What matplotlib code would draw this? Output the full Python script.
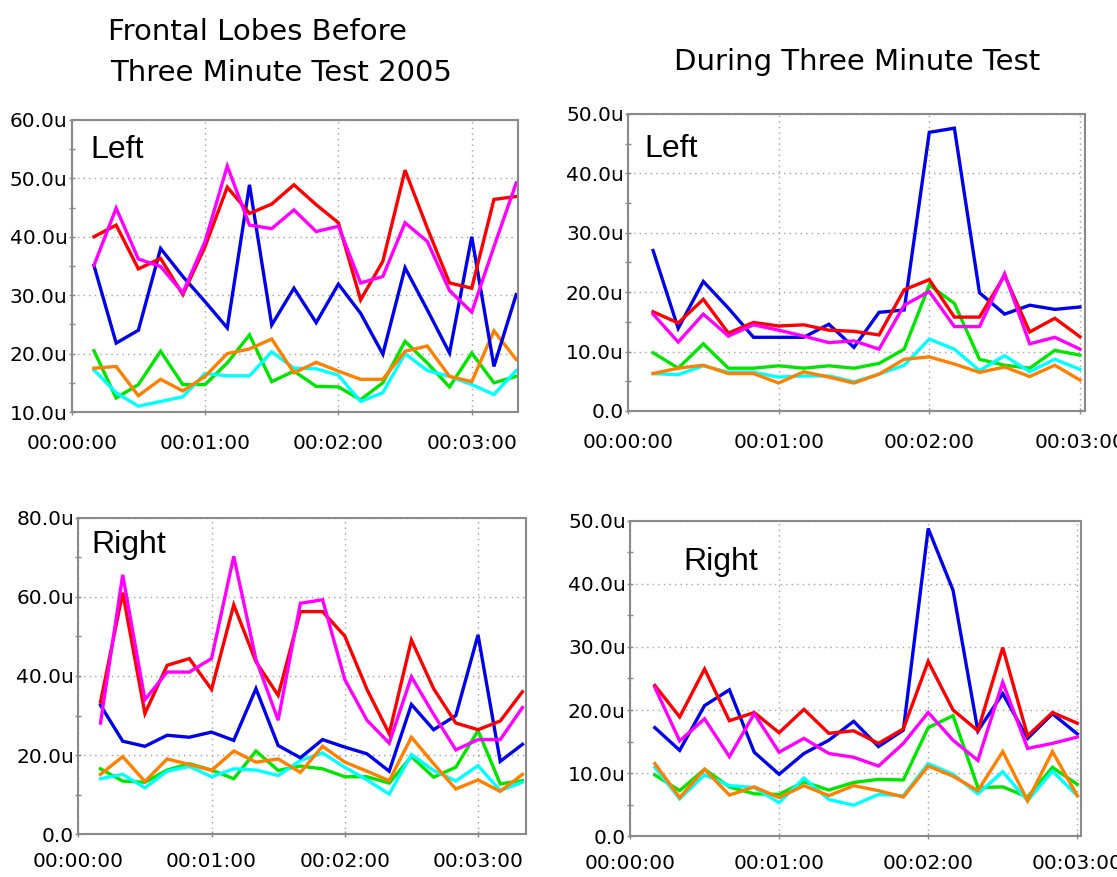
import matplotlib
matplotlib.use("Agg")
import matplotlib.pyplot as plt
from matplotlib.ticker import FuncFormatter, MultipleLocator

# sample times (seconds)
t_before = [10, 20, 30, 40, 50, 60, 70, 80, 90, 100,
            110, 120, 130, 140, 150, 160, 170, 180, 190, 200]
t_during = [10, 20, 30, 40, 50, 60, 70, 80, 90,
            100, 110, 120, 130, 140, 150, 160, 170, 180]

# before test, left
bl_blue = [35.1, 21.8, 24.0, 38.0, 33.2, 28.9, 24.4, 48.9, 24.9, 31.2,
           25.3, 31.9, 26.9, 19.9, 34.7, 27.5, 20.1, 40.0, 17.8, 30.1]
bl_red = [40.0, 42.0, 34.5, 36.3, 30.1, 38.3, 48.5, 44.0, 45.6, 48.9,
          45.5, 42.4, 29.2, 35.8, 51.4, 41.5, 32.1, 31.2, 46.4, 46.9]
bl_magenta = [35.1, 44.9, 36.2, 34.9, 30.4, 39.2, 52.1, 42.0, 41.4, 44.6,
              40.9, 41.8, 32.1, 33.2, 42.4, 39.2, 30.8, 27.1, 38.3, 49.2]
bl_green = [20.5, 12.4, 14.7, 20.4, 14.7, 14.7, 18.4, 23.2, 15.2, 17.0,
            14.4, 14.3, 12.1, 15.0, 22.1, 18.4, 14.3, 20.1, 15.0, 16.1]
bl_cyan = [17.2, 13.3, 11.0, 11.8, 12.6, 16.6, 16.2, 16.2, 20.3, 17.5,
           17.4, 16.3, 11.8, 13.3, 20.0, 17.1, 16.1, 14.7, 13.0, 17.1]
bl_orange = [17.5, 17.8, 12.8, 15.6, 13.6, 16.1, 20.0, 20.8, 22.5, 16.7,
             18.5, 17.0, 15.6, 15.6, 20.4, 21.3, 16.1, 15.2, 23.9, 19.0]

# during test, left
dl_blue = [27.0, 13.9, 21.8, 17.3, 12.4, 12.4, 12.4, 14.6, 10.7,
           16.6, 17.0, 46.9, 47.6, 19.9, 16.3, 17.8, 17.1, 17.5]
dl_red = [16.7, 14.8, 18.8, 13.1, 14.9, 14.3, 14.5, 13.6, 13.4,
          12.8, 20.4, 22.1, 15.8, 15.8, 22.8, 13.3, 15.6, 12.5]
dl_magenta = [16.3, 11.6, 16.3, 12.6, 14.5, 13.6, 12.6, 11.5, 11.8,
              10.4, 17.8, 20.1, 14.2, 14.2, 23.1, 11.3, 12.4, 10.4]
dl_green = [9.8, 7.2, 11.3, 7.2, 7.2, 7.6, 7.2, 7.6, 7.2,
            8.0, 10.4, 21.2, 18.1, 8.7, 7.7, 7.2, 10.2, 9.4]
dl_cyan = [6.3, 6.1, 7.6, 6.5, 6.5, 5.7, 5.9, 5.9, 4.9,
           6.2, 7.7, 12.1, 10.4, 6.8, 9.3, 6.6, 8.7, 7.0]
dl_orange = [6.3, 7.2, 7.7, 6.3, 6.3, 4.7, 6.6, 5.7, 4.7,
             6.2, 8.7, 9.1, 7.9, 6.5, 7.4, 5.8, 7.7, 5.2]

# before test, right
br_blue = [32.6, 23.5, 22.2, 25.0, 24.5, 25.8, 23.7, 36.8, 22.4, 19.3,
           23.9, 22.0, 20.3, 15.9, 32.8, 26.4, 30.0, 50.4, 18.4, 22.7]
br_red = [33.4, 61.1, 30.5, 42.7, 44.4, 36.6, 58.0, 43.6, 35.1, 56.3,
          56.3, 50.1, 36.6, 25.4, 49.1, 36.8, 28.1, 26.4, 28.6, 36.0]
br_magenta = [28.1, 65.6, 34.0, 41.0, 41.0, 44.4, 70.3, 44.2, 28.8, 58.4,
              59.3, 39.1, 28.8, 23.0, 39.8, 30.3, 21.3, 23.9, 23.9, 32.0]
br_green = [16.5, 13.4, 13.1, 16.2, 17.8, 16.2, 14.0, 21.0, 16.1, 17.2,
            16.5, 14.5, 14.5, 12.9, 19.6, 14.4, 16.9, 26.2, 12.7, 13.5]
br_cyan = [14.0, 15.1, 11.7, 15.9, 17.1, 14.5, 16.5, 16.2, 14.8, 18.6,
           20.5, 16.9, 13.7, 10.1, 20.1, 16.1, 13.4, 17.3, 11.0, 13.1]
br_orange = [15.1, 19.6, 13.3, 19.0, 17.6, 16.1, 21.0, 18.2, 19.0, 15.6,
             22.2, 18.2, 15.9, 13.5, 24.5, 17.8, 11.4, 13.7, 10.8, 15.1]

# during test, right
dr_blue = [17.2, 13.6, 20.7, 23.2, 13.3, 9.8, 13.1, 15.2, 18.2,
           14.2, 16.8, 48.8, 39.0, 16.7, 22.6, 15.5, 19.4, 16.2]
dr_red = [23.9, 18.9, 26.5, 18.3, 19.6, 16.4, 20.1, 16.3, 16.7,
          14.7, 17.0, 27.7, 20.0, 16.7, 29.9, 15.9, 19.6, 17.9]
dr_magenta = [23.6, 15.1, 18.6, 12.6, 19.4, 13.3, 15.5, 13.1, 12.5,
              11.1, 14.7, 19.6, 15.2, 12.0, 24.4, 13.9, 14.7, 15.7]
dr_green = [9.7, 7.2, 10.6, 7.8, 6.7, 6.6, 8.6, 7.3, 8.5,
            9.0, 8.9, 17.2, 19.1, 7.7, 7.8, 6.2, 10.9, 8.2]
dr_cyan = [10.9, 5.9, 9.7, 8.0, 7.7, 5.3, 9.2, 5.8, 4.9,
           6.6, 6.4, 11.5, 9.8, 6.7, 10.2, 5.6, 10.3, 6.4]
dr_orange = [11.5, 6.1, 10.6, 6.5, 7.8, 6.1, 8.0, 6.4, 8.0,
             7.2, 6.2, 11.1, 9.5, 7.2, 13.4, 5.6, 13.4, 6.4]

colors = {"green": "#00e600", "cyan": "#00ffff", "orange": "#ff8000",
          "blue": "#0000ee", "red": "#ff0000", "magenta": "#ff00ff"}


def hms(x, pos):
    s = int(round(x))
    return "%02d:%02d:%02d" % (s // 3600, (s % 3600) // 60, s % 60)


def ulabel(y, pos):
    if abs(y) < 1e-9:
        return "0.0"
    return "%.1fu" % y


def panel(ax, t, lines, ylim, ystep, xmax, label, lx, ly, xpad=14):
    # drawing order: low bands first, red/magenta on top
    for name in ["green", "cyan", "orange", "blue", "red", "magenta"]:
        ax.plot(t, lines[name], color=colors[name], lw=2.4,
                solid_joinstyle="miter")
    ax.set_xlim(0, xmax)
    ax.set_ylim(*ylim)
    ax.set_xticks([0, 60, 120, 180])
    ax.xaxis.set_major_formatter(FuncFormatter(hms))
    ax.yaxis.set_major_locator(MultipleLocator(ystep))
    ax.yaxis.set_minor_locator(MultipleLocator(ystep / 2))
    ax.yaxis.set_major_formatter(FuncFormatter(ulabel))
    ax.grid(True, which="major", linestyle=(0, (1, 3)), color="#a0a0a0", lw=1)
    for sp in ax.spines.values():
        sp.set_color("#8a8a8a")
        sp.set_linewidth(1.5)
    ax.tick_params(axis="both", which="both", direction="inout",
                   length=4, width=1, color="#8a8a8a", labelsize=14.5)
    ax.tick_params(axis="x", pad=xpad)
    ax.tick_params(axis="y", pad=1)
    ax.text(lx, ly, label, transform=ax.transAxes, fontsize=23,
            family="Liberation Sans", va="baseline", ha="left")


fig = plt.figure(figsize=(11.17, 8.77), dpi=100)

ax1 = fig.add_axes([0.0642, 0.5302, 0.3993, 0.3330])
ax2 = fig.add_axes([0.5622, 0.5314, 0.4091, 0.3387])
ax3 = fig.add_axes([0.0701, 0.0490, 0.4008, 0.3604])
ax4 = fig.add_axes([0.5640, 0.0467, 0.4038, 0.3593])

panel(ax1, t_before,
      {"blue": bl_blue, "red": bl_red, "magenta": bl_magenta,
       "green": bl_green, "cyan": bl_cyan, "orange": bl_orange},
      (10, 60), 10, 200.7, "Left", 0.041, 0.87)
panel(ax2, t_during,
      {"blue": dl_blue, "red": dl_red, "magenta": dl_magenta,
       "green": dl_green, "cyan": dl_cyan, "orange": dl_orange},
      (0, 50), 10, 182, "Left", 0.035, 0.856)
panel(ax3, t_before,
      {"blue": br_blue, "red": br_red, "magenta": br_magenta,
       "green": br_green, "cyan": br_cyan, "orange": br_orange},
      (0, 80), 20, 201.6, "Right", 0.030, 0.889, xpad=11)
panel(ax4, t_during,
      {"blue": dr_blue, "red": dr_red, "magenta": dr_magenta,
       "green": dr_green, "cyan": dr_cyan, "orange": dr_orange},
      (0, 50), 10, 181.5, "Right", 0.118, 0.845, xpad=11)

fig.text(108 / 1117, 1 - 40 / 877, "Frontal Lobes Before", fontsize=21,
         va="baseline", ha="left")
fig.text(110 / 1117, 1 - 81 / 877, "Three Minute Test 2005", fontsize=21,
         va="baseline", ha="left")
fig.text(674 / 1117, 1 - 70 / 877, "During Three Minute Test", fontsize=21,
         va="baseline", ha="left")

fig.savefig("out.png", dpi=100)
